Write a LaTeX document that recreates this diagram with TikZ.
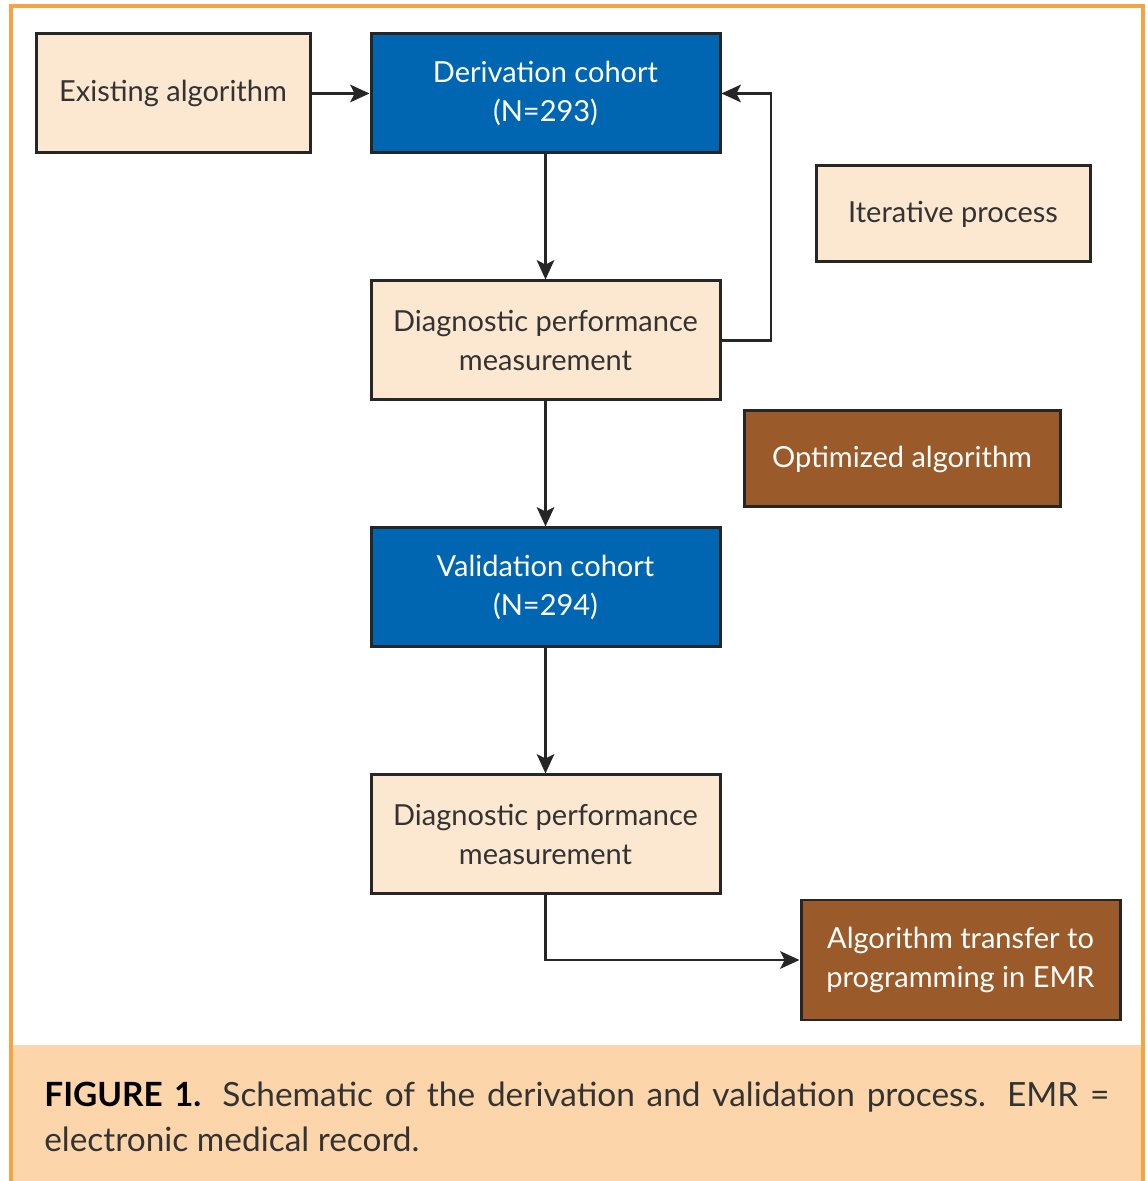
\documentclass[tikz,border=0pt]{standalone}
\usepackage{fontspec}
\setmainfont{Lato}
\usepackage{tikz}
\usetikzlibrary{positioning,arrows.meta}
\definecolor{framorange}{HTML}{F5A443}
\definecolor{capband}{HTML}{FCD6AA}
\definecolor{lightbox}{HTML}{FCE8D0}
\definecolor{cohortblue}{HTML}{0066B2}
\definecolor{algobrown}{HTML}{9A5A2A}
\definecolor{txtgray}{HTML}{333333}
\tikzset{
  basebox/.style={draw=black!85,line width=1.7pt,inner sep=0pt,align=center,
            font=\fontsize{16.5}{22}\selectfont,text=txtgray},
  plainbox/.style={basebox,fill=lightbox,minimum width=6.98cm,minimum height=2.38cm},
  cohortbox/.style={basebox,fill=cohortblue,text=white,minimum width=6.98cm,minimum height=2.38cm},
  algobox/.style={basebox,fill=algobrown,text=white},
  flow/.style={-{Stealth[length=11pt,width=10pt,inset=2.5pt]},line width=1.3pt,black!85},
}
\begin{document}
\begin{tikzpicture}[node distance=2.50cm and 1.16cm]
  \useasboundingbox (0,0) rectangle (22.94,23.62);
  % frame and caption band
  \fill[capband] (0.24,0) rectangle (22.82,2.72);
  \draw[framorange,line width=2.4pt] (0.22,0) -- (0.22,23.5) -- (22.86,23.5) -- (22.86,0);

  \node[cohortbox] (deriv) at (10.91,21.75) {Derivation cohort\\(N=293)};
  \node[plainbox,minimum width=5.48cm,left=of deriv] (exist) {Existing algorithm};
  \node[plainbox,below=of deriv] (diag1) {Diagnostic performance\\measurement};
  \node[cohortbox,below=of diag1] (valid) {Validation cohort\\(N=294)};
  \node[plainbox,below=of valid] (diag2) {Diagnostic performance\\measurement};
  \node[plainbox,minimum width=5.48cm,minimum height=1.92cm] (iter) at (19.06,19.34) {Iterative process};
  \node[algobox,minimum width=6.32cm,minimum height=1.92cm] (optim) at (18.04,14.44) {Optimized algorithm};
  \node[algobox,minimum width=6.38cm,minimum height=2.40cm] (transf) at (19.21,4.42)
       {Algorithm transfer to\\programming in EMR};
  \coordinate (loopx) at (15.42,0);

  \draw[flow] (exist) -- (deriv);
  \draw[flow] (deriv) -- (diag1);
  \draw[flow] (diag1.east) -- (diag1.east -| loopx) |- (deriv.east);
  \draw[flow] (diag1) -- (valid);
  \draw[flow] (valid) -- (diag2);
  \draw[flow] (diag2.south) |- (transf.west);

  % caption
  \node[anchor=north west,inner sep=0pt,text width=21.3cm,align=justify,
        font=\fontsize{19}{25.5}\selectfont,text=txtgray] (caption) at (0.88,1.98)
    {{\bfseries\color{black}FIGURE 1.} Schematic of the derivation and validation process. EMR =\linebreak
     electronic medical record.};
\end{tikzpicture}
\end{document}
